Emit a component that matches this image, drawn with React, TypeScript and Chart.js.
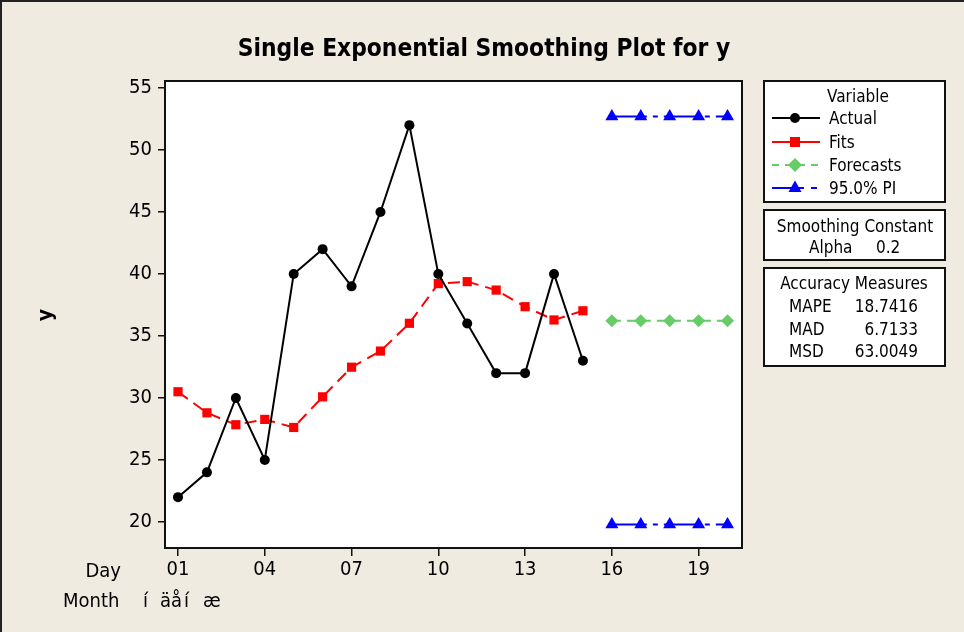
import React, { useEffect, useRef } from "react";
import { Chart, registerables } from "chart.js";

Chart.register(...registerables);

// ---- data ----
const actualPeriods = [1, 2, 3, 4, 5, 6, 7, 8, 9, 10, 11, 12, 13, 14, 15];
const actualValues = [22, 24, 30, 25, 40, 42, 39, 45, 52, 40, 36, 32, 32, 40, 33];
const fitValues = [30.5, 28.8, 27.84, 28.27, 27.62, 30.09, 32.48, 33.78, 36.02, 39.22, 39.38, 38.7, 37.36, 36.29, 37.03];
const forecastPeriods = [16, 17, 18, 19, 20];
const forecastValues = [36.22, 36.22, 36.22, 36.22, 36.22];
const upperPIValues = [52.7, 52.7, 52.7, 52.7, 52.7];
const lowerPIValues = [19.8, 19.8, 19.8, 19.8, 19.8];
const yTickValues = [20, 25, 30, 35, 40, 45, 50, 55];
const xTickValues = [1, 4, 7, 10, 13, 16, 19];
const xTickLabels = ["01", "04", "07", "10", "13", "16", "19"];
const legendLabels = ["Actual", "Fits", "Forecasts", "95.0% PI"];
const accuracyLabels = ["MAPE", "MAD", "MSD"];
const accuracyValues = ["18.7416", "6.7133", "63.0049"];
const alphaValue = "0.2";

const FONT = '"DejaVu Sans Condensed", "Noto Sans", "DejaVu Sans", sans-serif';
const BG = "#efebe1";
const RED = "#ff0000";
const GREEN = "#66cc66";
const BLUE = "#0000ff";

const pts = (xs: number[], ys: number[]) => xs.map((x, i) => ({ x, y: ys[i] }));

const framePlugin = {
  id: "frame",
  beforeDraw(chart: any) {
    const { ctx, chartArea: a } = chart;
    ctx.save();
    ctx.fillStyle = "#ffffff";
    ctx.fillRect(a.left, a.top, a.right - a.left, a.bottom - a.top);
    ctx.restore();
  },
  afterDatasetsDraw(chart: any) {
    const { ctx, chartArea: a } = chart;
    ctx.save();
    ctx.strokeStyle = "#111";
    ctx.lineWidth = 2;
    ctx.strokeRect(a.left, a.top, a.right - a.left, a.bottom - a.top);
    ctx.restore();
  },
};

function T(props: { x: number; y: number; text: string; size?: number; bold?: boolean; align?: "left" | "center" | "right" }) {
  const { x, y, text, size = 17, bold = false, align = "left" } = props;
  const style: React.CSSProperties = {
    position: "absolute",
    top: y - size / 2,
    lineHeight: size + "px",
    height: size,
    fontFamily: FONT,
    fontSize: size,
    fontWeight: bold ? "bold" : "normal",
    color: "#000",
    whiteSpace: "pre",
  };
  if (align === "left") style.left = x;
  else if (align === "right") style.right = 964 - x;
  else {
    style.left = x - 300;
    style.width = 600;
    style.textAlign = "center";
  }
  return <div style={style}>{text}</div>;
}

export default function App() {
  const ref = useRef<HTMLCanvasElement | null>(null);

  useEffect(() => {
    if (!ref.current) return;
    const tickFont = { family: FONT, size: 20 };
    const chart = new Chart(ref.current, {
      type: "line",
      data: {
        datasets: [
          {
            label: "Actual",
            data: pts(actualPeriods, actualValues),
            borderColor: "#000",
            backgroundColor: "#000",
            borderWidth: 2,
            pointStyle: "circle",
            pointRadius: 5,
            pointBorderWidth: 0,
            tension: 0,
          },
          {
            label: "Fits",
            data: pts(actualPeriods, fitValues),
            borderColor: RED,
            backgroundColor: RED,
            borderWidth: 2,
            borderDash: [12, 7],
            pointStyle: "rect",
            pointRadius: 6.5,
            pointBorderWidth: 0,
            tension: 0,
          },
          {
            label: "Forecasts",
            data: pts(forecastPeriods, forecastValues),
            borderColor: GREEN,
            backgroundColor: GREEN,
            borderWidth: 2,
            borderDash: [9, 6],
            pointStyle: "rectRot",
            pointRadius: 6.5,
            pointBorderWidth: 0,
            tension: 0,
          },
          {
            label: "Upper 95.0% PI",
            data: pts(forecastPeriods, upperPIValues),
            borderColor: BLUE,
            backgroundColor: BLUE,
            borderWidth: 2,
            borderDash: [35, 6, 5, 6],
            pointStyle: "triangle",
            pointRadius: 7.5,
            pointBorderWidth: 0,
            tension: 0,
          },
          {
            label: "Lower 95.0% PI",
            data: pts(forecastPeriods, lowerPIValues),
            borderColor: BLUE,
            backgroundColor: BLUE,
            borderWidth: 2,
            borderDash: [35, 6, 5, 6],
            pointStyle: "triangle",
            pointRadius: 7.5,
            pointBorderWidth: 0,
            tension: 0,
          },
        ],
      },
      options: {
        animation: false,
        responsive: false,
        devicePixelRatio: 1,
        layout: { padding: { left: 0, top: 81, right: 222, bottom: 0 } },
        plugins: { legend: { display: false }, tooltip: { enabled: false }, title: { display: false } },
        scales: {
          x: {
            type: "linear",
            min: 0.55,
            max: 20.5,
            afterBuildTicks: (s: any) => {
              s.ticks = xTickValues.map((v) => ({ value: v }));
            },
            afterFit: (s: any) => {
              s.height = 84;
            },
            grid: { display: true, drawOnChartArea: false, drawTicks: true, tickLength: 8, color: "#111", lineWidth: 1.5 },
            border: { display: false },
            ticks: {
              autoSkip: false,
              maxRotation: 0,
              padding: 2,
              color: "#000",
              font: tickFont,
              callback: (v: any) => {
                const i = xTickValues.indexOf(Number(v));
                return i >= 0 ? xTickLabels[i] : "";
              },
            },
          },
          y: {
            type: "linear",
            min: 17.9,
            max: 55.56,
            afterBuildTicks: (s: any) => {
              s.ticks = yTickValues.map((v) => ({ value: v }));
            },
            afterFit: (s: any) => {
              s.width = 165;
            },
            grid: { display: true, drawOnChartArea: false, drawTicks: true, tickLength: 7, color: "#111", lineWidth: 1.5 },
            border: { display: false },
            ticks: {
              autoSkip: false,
              padding: 6,
              color: "#000",
              font: tickFont,
              callback: (v: any) => String(v),
            },
          },
        },
      },
      plugins: [framePlugin],
    } as any);
    return () => chart.destroy();
  }, []);

  const rowYs = [118, 142, 165, 188];
  const accYs = [306, 329, 351];

  return (
    <div
      style={{
        position: "fixed",
        left: 0,
        top: 0,
        width: 964,
        height: 632,
        background: BG,
        overflow: "hidden",
      }}
    >
      <div style={{ position: "absolute", left: 0, top: 0, width: 964, height: 2, background: "#222" }} />
      <div style={{ position: "absolute", left: 0, top: 0, width: 2, height: 632, background: "#222" }} />
      <canvas ref={ref} width={964} height={632} style={{ position: "absolute", left: 0, top: 0, width: 964, height: 632 }} />
      <svg width={964} height={632} style={{ position: "absolute", left: 0, top: 0 }}>
        <rect x={764} y={81} width={181} height={121} fill="#fff" stroke="#111" strokeWidth={2} />
        <rect x={764} y={210} width={181} height={50} fill="#fff" stroke="#111" strokeWidth={2} />
        <rect x={764} y={268} width={181} height={98} fill="#fff" stroke="#111" strokeWidth={2} />
        {/* Actual */}
        <line x1={772} y1={rowYs[0]} x2={820} y2={rowYs[0]} stroke="#000" strokeWidth={2} />
        <circle cx={795} cy={rowYs[0]} r={5} fill="#000" />
        {/* Fits */}
        <line x1={772} y1={rowYs[1]} x2={820} y2={rowYs[1]} stroke={RED} strokeWidth={2} />
        <rect x={790} y={rowYs[1] - 5} width={10} height={10} fill={RED} />
        {/* Forecasts */}
        <line x1={772} y1={rowYs[2]} x2={820} y2={rowYs[2]} stroke={GREEN} strokeWidth={2} strokeDasharray="7,6" />
        <polygon points={`795,${rowYs[2] - 7} 802,${rowYs[2]} 795,${rowYs[2] + 7} 788,${rowYs[2]}`} fill={GREEN} />
        {/* PI */}
        <line x1={772} y1={rowYs[3]} x2={804} y2={rowYs[3]} stroke={BLUE} strokeWidth={2} />
        <line x1={811} y1={rowYs[3]} x2={817} y2={rowYs[3]} stroke={BLUE} strokeWidth={2} />
        <polygon points={`795,${rowYs[3] - 7.5} 801.5,${rowYs[3] + 4} 788.5,${rowYs[3] + 4}`} fill={BLUE} />
      </svg>

      <T x={484} y={48} text="Single Exponential Smoothing Plot for y" size={24.3} bold align="center" />
      <div
        style={{
          position: "absolute",
          left: 45 - 20,
          top: 315 - 10,
          width: 40,
          height: 20,
          lineHeight: "20px",
          textAlign: "center",
          fontFamily: FONT,
          fontSize: 21,
          fontWeight: "bold",
          transform: "rotate(-90deg)",
        }}
      >
        y
      </div>
      <T x={121} y={570} text="Day" size={20} align="right" />
      <T x={63} y={600} text="Month" size={20} />
      <T x={143} y={600} text="í" size={20} />
      <T x={160} y={600} text="äå" size={20} />
      <T x={184} y={600} text="í" size={20} />
      <T x={203} y={600} text="æ" size={20} />

      <T x={858} y={96} text="Variable" align="center" />
      {legendLabels.map((l, i) => (
        <T key={l} x={829} y={rowYs[i]} text={l} />
      ))}
      <T x={855} y={226} text="Smoothing Constant" align="center" />
      <T x={809} y={247} text="Alpha" />
      <T x={876} y={247} text={alphaValue} />
      <T x={854} y={283} text="Accuracy Measures" align="center" />
      {accuracyLabels.map((l, i) => (
        <React.Fragment key={l}>
          <T x={789} y={accYs[i]} text={l} />
          <T x={918} y={accYs[i]} text={accuracyValues[i]} align="right" />
        </React.Fragment>
      ))}
    </div>
  );
}
